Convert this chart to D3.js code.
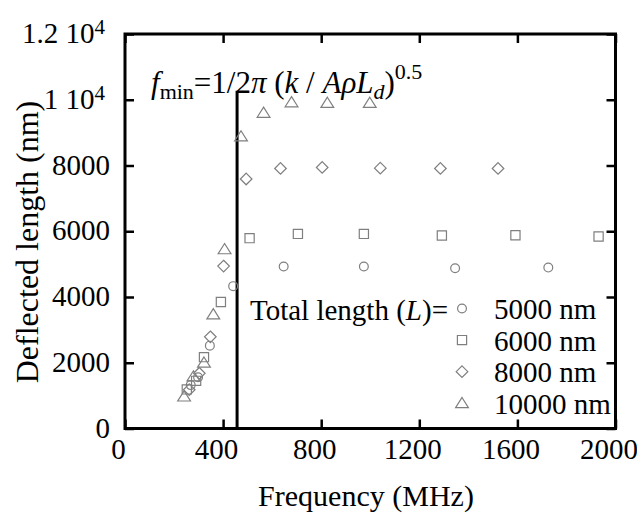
<!DOCTYPE html>
<html>
<head>
<meta charset="utf-8">
<script src="https://cdn.jsdelivr.net/npm/d3@7"></script>
<style>
  body { margin: 0; background: #fff; }
  .tick line { stroke: #000; stroke-width: 2.5; }
  .marker { fill: none; stroke: #7f7f7f; stroke-width: 1.2; }
</style>
</head>
<body>
<svg id="svg-chart" width="637" height="518"></svg>
<script>
//////////////////////////////////////////////////////////////////////////////////////////
// Data
//////////////////////////////////////////////////////////////////////////////////////////
var series_names = ['5000 nm', '6000 nm', '8000 nm', '10000 nm']
var series_shapes = ['circle', 'square', 'diamond', 'triangle']

var freq_5000 = [268, 298, 346, 441, 647, 974, 1346, 1726]
var defl_5000 = [1320, 1560, 2520, 4330, 4926, 4926, 4876, 4895]

var freq_6000 = [252, 290, 322, 391, 508, 705, 974, 1292, 1592, 1931]
var defl_6000 = [1190, 1450, 2170, 3850, 5790, 5920, 5920, 5870, 5880, 5840]

var freq_8000 = [262, 303, 348, 402, 494, 634, 804, 1041, 1286, 1521]
var defl_8000 = [1180, 1680, 2790, 4940, 7590, 7910, 7940, 7920, 7910, 7910]

var freq_10000 = [241, 279, 322, 360, 406, 473, 565, 679, 825, 998]
var defl_10000 = [970, 1580, 2000, 3470, 5450, 8880, 9600, 9920, 9900, 9900]

var x_ticks = [0, 400, 800, 1200, 1600, 2000]
var y_ticks = [0, 2000, 4000, 6000, 8000, 10000, 12000]

var f_min = 457
var f_min_line_top = 10270

//////////////////////////////////////////////////////////////////////////////////////////
// Global variables
//////////////////////////////////////////////////////////////////////////////////////////
var svg = d3.select('#svg-chart')
var font_size = 29
var serif = pick_serif_font()

var x = d3.scaleLinear().domain([0, 2000]).range([125, 615.5])
var y = d3.scaleLinear().domain([0, 12000]).range([428.5, 34])

var all_series = [
  { 'freq': freq_5000, 'defl': defl_5000 },
  { 'freq': freq_6000, 'defl': defl_6000 },
  { 'freq': freq_8000, 'defl': defl_8000 },
  { 'freq': freq_10000, 'defl': defl_10000 }
]

//////////////////////////////////////////////////////////////////////////////////////////
// Draw
//////////////////////////////////////////////////////////////////////////////////////////
gen_axes()
gen_frame()
gen_f_min_line()
gen_points()
gen_formula()
gen_legend()
gen_axis_titles()

svg.selectAll('text')
  .attr('font-family', serif)
  .style('font-family', serif)
  .style('fill', '#000')

// the first serif face that is really installed (width differs from the monospace fallback)
function pick_serif_font() {
  var ctx = document.createElement('canvas').getContext('2d')
  var probe = 'Frequency length 0123456789'
  ctx.font = '40px monospace'
  var base = ctx.measureText(probe).width
  var names = ['Liberation Serif', 'Times New Roman', 'Tinos', 'Nimbus Roman', 'DejaVu Serif', 'Noto Serif']
  for (var i = 0; i < names.length; i++) {
    ctx.font = '40px "' + names[i] + '", monospace'
    if (Math.abs(ctx.measureText(probe).width - base) > 1) return '"' + names[i] + '", serif'
  }
  return 'serif'
}

function marker_path(shape) {
  if (shape == 'circle') return 'M4.4,0A4.4,4.4 0 1,1 -4.4,0A4.4,4.4 0 1,1 4.4,0Z'
  if (shape == 'square') return 'M-4.6,-4.6H4.6V4.6H-4.6Z'
  if (shape == 'diamond') return 'M0,-5.8L5.8,0L0,5.8L-5.8,0Z'
  return 'M0,-5.8L6.4,4.4H-6.4Z'
}

function gen_axes() {
  var bottom = svg.append('g')
    .attr('transform', 'translate(0,' + y(0) + ')')
    .call(d3.axisBottom(x).tickValues(x_ticks).tickSizeInner(-9).tickSizeOuter(0).tickFormat(d3.format('d')))
  bottom.selectAll('text')
    .attr('y', 30)
    .attr('dy', null)
    .attr('dx', -7)
    .style('font-size', font_size + 'px')

  svg.append('g')
    .attr('transform', 'translate(0,' + y(12000) + ')')
    .call(d3.axisTop(x).tickValues(x_ticks).tickSizeInner(-9).tickSizeOuter(0).tickFormat(''))

  var left = svg.append('g')
    .attr('transform', 'translate(' + x(0) + ',0)')
    .call(d3.axisLeft(y).tickValues(y_ticks).tickSizeInner(-9).tickSizeOuter(0).tickFormat(d3.format('d')))
  left.selectAll('text')
    .attr('x', -15)
    .attr('dy', '0.3em')
    .style('font-size', font_size + 'px')
    .each(function(d) {
      if (d < 10000) return
      var t = d3.select(this).text('').attr('x', -20)
      t.append('tspan').text((d / 10000) + ' 10')
      t.append('tspan').attr('dy', '-0.45em').style('font-size', '21px').text('4')
    })

  svg.append('g')
    .attr('transform', 'translate(' + x(2000) + ',0)')
    .call(d3.axisRight(y).tickValues(y_ticks).tickSizeInner(-9).tickSizeOuter(0).tickFormat(''))

  svg.selectAll('.domain').remove()
}

function gen_frame() {
  svg.append('rect')
    .attr('x', x(0))
    .attr('y', y(12000))
    .attr('width', x(2000) - x(0))
    .attr('height', y(0) - y(12000))
    .attr('fill', 'none')
    .attr('stroke', '#000')
    .attr('stroke-width', 3)
}

function gen_f_min_line() {
  svg.append('line')
    .attr('x1', x(f_min))
    .attr('x2', x(f_min))
    .attr('y1', y(f_min_line_top))
    .attr('y2', y(0))
    .attr('stroke', '#000')
    .attr('stroke-width', 3)
}

function gen_points() {
  all_series.forEach(function(s, i) {
    svg.append('g')
      .selectAll('path')
      .data(s.freq)
      .enter()
      .append('path')
      .attr('class', 'marker')
      .attr('d', marker_path(series_shapes[i]))
      .attr('transform', function(d, j) {
        return 'translate(' + x(d) + ',' + y(s.defl[j]) + ')'
      })
  })
}

function gen_formula() {
  var t = svg.append('text')
    .attr('x', 151)
    .attr('y', 93)
    .style('font-size', '31px')
  t.append('tspan').style('font-style', 'italic').text('f')
  t.append('tspan').attr('dy', 6).style('font-size', '22px').text('min')
  t.append('tspan').attr('dy', -6).text('=1/2')
  t.append('tspan').style('font-style', 'italic').text('\u03c0')
  t.append('tspan').text(' (')
  t.append('tspan').style('font-style', 'italic').text('k')
  t.append('tspan').text(' / ')
  t.append('tspan').style('font-style', 'italic').text('A\u03c1L')
  t.append('tspan').attr('dy', 6).style('font-style', 'italic').style('font-size', '22px').text('d')
  t.append('tspan').attr('dy', -6).text(')')
  t.append('tspan').attr('dy', -14).style('font-size', '22px').text('0.5')
}

function gen_legend() {
  var t = svg.append('text')
    .attr('x', 250)
    .attr('y', 320)
    .style('font-size', font_size + 'px')
  t.append('tspan').text('Total length (')
  t.append('tspan').style('font-style', 'italic').text('L')
  t.append('tspan').text(')=')

  var rows = svg.append('g')
    .selectAll('g')
    .data(series_names)
    .enter()
    .append('g')
    .attr('transform', function(d, i) { return 'translate(462,' + (308.5 + i * 31.6) + ')' })

  rows.append('path')
    .attr('class', 'marker')
    .attr('d', function(d, i) { return marker_path(series_shapes[i]) })

  rows.append('text')
    .attr('x', 32)
    .attr('y', 10.5)
    .style('font-size', font_size + 'px')
    .text(function(d) { return d })
}

function gen_axis_titles() {
  svg.append('text')
    .attr('x', 366)
    .attr('y', 506)
    .attr('text-anchor', 'middle')
    .style('font-size', '30px')
    .text('Frequency (MHz)')

  svg.append('text')
    .attr('transform', 'translate(38,242) rotate(-90)')
    .attr('text-anchor', 'middle')
    .style('font-size', '32px')
    .text('Deflected length (nm)')
}
</script>
</body>
</html>
